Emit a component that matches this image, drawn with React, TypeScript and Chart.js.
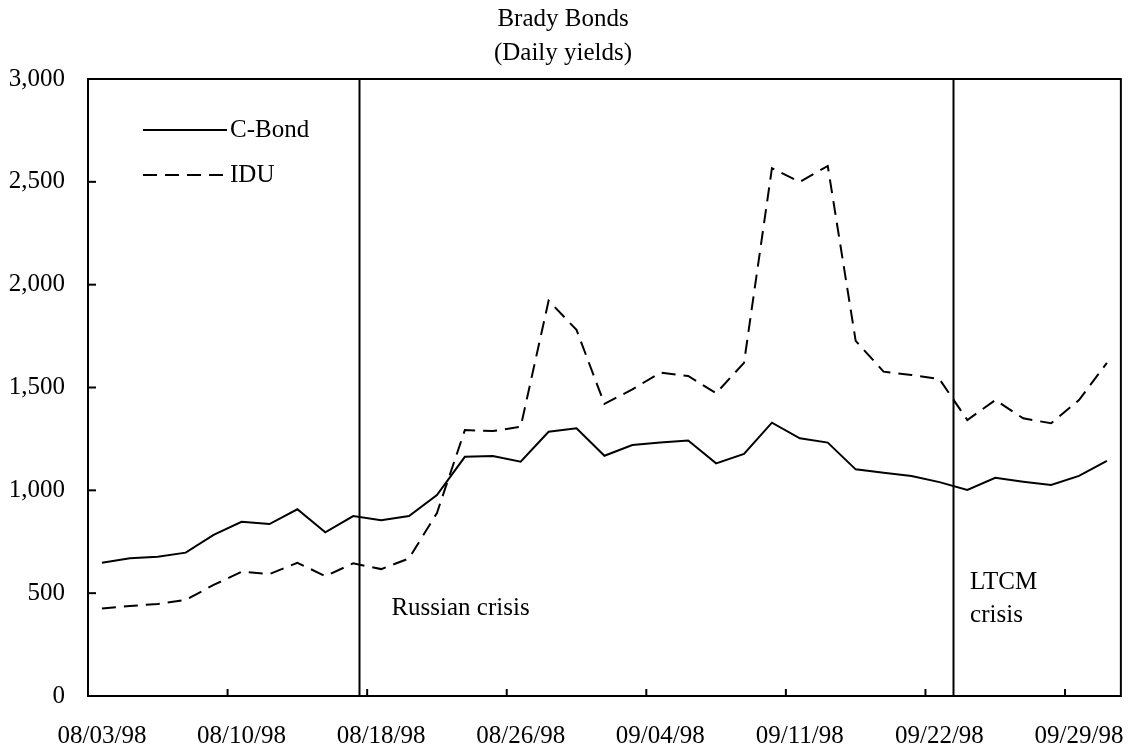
import React, { useEffect, useRef } from 'react';
import { Chart, registerables } from 'chart.js';

Chart.register(...registerables);

// Trading days (categories)
const DATES = [
  '08/03/98', '08/04/98', '08/05/98', '08/06/98', '08/07/98',
  '08/10/98', '08/11/98', '08/12/98', '08/13/98', '08/14/98',
  '08/18/98', '08/19/98', '08/20/98', '08/21/98', '08/24/98',
  '08/26/98', '08/27/98', '08/28/98', '08/31/98', '09/01/98',
  '09/04/98', '09/07/98', '09/08/98', '09/09/98', '09/10/98',
  '09/11/98', '09/14/98', '09/15/98', '09/16/98', '09/17/98',
  '09/22/98', '09/23/98', '09/24/98', '09/25/98', '09/28/98',
  '09/29/98', '09/30/98',
];

const C_BOND = [
  648, 670, 677, 697, 783, 847, 836, 908, 796, 875,
  855, 875, 977, 1163, 1167, 1139, 1285, 1302, 1168, 1220,
  1232, 1242, 1131, 1177, 1329, 1253, 1232, 1102, 1086, 1070,
  1040, 1002, 1061, 1042, 1026, 1070, 1143,
];

const IDU = [
  426, 438, 447, 467, 540, 604, 593, 648, 583, 645,
  617, 669, 890, 1293, 1288, 1309, 1922, 1780, 1420, 1491,
  1572, 1556, 1472, 1620, 2566, 2500, 2577, 1727, 1577, 1561,
  1541, 1342, 1439, 1350, 1326, 1439, 1620,
];

const Y_TICKS = [0, 500, 1000, 1500, 2000, 2500, 3000];
const LABEL_EVERY = 5;
const TITLE_LINES = ['Brady Bonds', '(Daily yields)'];
const SERIES_NAMES = ['C-Bond', 'IDU'];

// Event markers: vertical line at a (fractional) category position
const EVENT_LINE_AT = [9.2, 30.47];
const EVENT_TEXT = [
  { lines: ['Russian crisis'], atIndex: 10.37, atValue: 428 },
  { lines: ['LTCM', 'crisis'], atIndex: 31.1, atValue: 554 },
];

const FONT = '25px "Liberation Serif"';
const DASH = [14, 8];

const decorPlugin = {
  id: 'decor',
  afterDraw(chart: any) {
    const { ctx, chartArea } = chart;
    const xs = chart.scales.x;
    const ys = chart.scales.y;
    ctx.save();
    ctx.fillStyle = '#000';
    ctx.strokeStyle = '#000';
    ctx.font = FONT;

    // Title
    ctx.textAlign = 'center';
    ctx.textBaseline = 'middle';
    ctx.fillText(TITLE_LINES[0], 563, 19);
    ctx.fillText(TITLE_LINES[1], 563, 53);

    // Frame
    ctx.lineWidth = 2;
    ctx.setLineDash([]);
    ctx.strokeRect(chartArea.left, chartArea.top, chartArea.right - chartArea.left, chartArea.bottom - chartArea.top);

    // Inward y ticks
    ctx.lineWidth = 2;
    Y_TICKS.forEach((v) => {
      const y = ys.getPixelForValue(v);
      ctx.beginPath();
      ctx.moveTo(chartArea.left, y);
      ctx.lineTo(chartArea.left + 8, y);
      ctx.stroke();
    });

    // Inward x ticks at category boundaries
    for (let k = -0.5; k <= DATES.length - 0.5; k += LABEL_EVERY) {
      const x = xs.getPixelForValue(k);
      ctx.beginPath();
      ctx.moveTo(x, chartArea.bottom);
      ctx.lineTo(x, chartArea.bottom - 7);
      ctx.stroke();
    }

    // Event lines
    EVENT_LINE_AT.forEach((at) => {
      const x = Math.round(xs.getPixelForValue(at)) + 0.5;
      ctx.beginPath();
      ctx.moveTo(x, chartArea.top);
      ctx.lineTo(x, chartArea.bottom);
      ctx.stroke();
    });

    // Event texts
    ctx.textAlign = 'left';
    ctx.textBaseline = 'middle';
    EVENT_TEXT.forEach((e) => {
      const x = xs.getPixelForValue(e.atIndex);
      const y0 = ys.getPixelForValue(e.atValue);
      e.lines.forEach((t, i) => ctx.fillText(t, x, y0 + i * 33));
    });

    // Legend
    const legendY = [130, 175];
    legendY.forEach((y, i) => {
      ctx.lineWidth = 2;
      ctx.setLineDash(i === 0 ? [] : DASH);
      ctx.beginPath();
      ctx.moveTo(143, y);
      ctx.lineTo(227, y);
      ctx.stroke();
      ctx.setLineDash([]);
      ctx.fillText(SERIES_NAMES[i], 230, y);
    });

    ctx.restore();
  },
};

export default function App() {
  const ref = useRef<HTMLCanvasElement | null>(null);

  useEffect(() => {
    if (!ref.current) return;
    const chart = new Chart(ref.current, {
      type: 'line',
      data: {
        labels: DATES,
        datasets: [
          {
            label: SERIES_NAMES[0],
            data: C_BOND,
            borderColor: '#000',
            borderWidth: 2,
            pointRadius: 0,
            tension: 0,
            fill: false,
          },
          {
            label: SERIES_NAMES[1],
            data: IDU,
            borderColor: '#000',
            borderWidth: 2,
            borderDash: DASH,
            pointRadius: 0,
            tension: 0,
            fill: false,
          },
        ],
      },
      options: {
        animation: false,
        responsive: false,
        layout: { padding: { top: 79, right: 7, left: 0, bottom: 0 } },
        plugins: {
          legend: { display: false },
          title: { display: false },
          tooltip: { enabled: false },
        },
        scales: {
          x: {
            type: 'category',
            offset: true,
            grid: { display: false, drawTicks: false },
            border: { display: false },
            ticks: {
              autoSkip: false,
              maxRotation: 0,
              minRotation: 0,
              padding: 25,
              color: '#000',
              font: { family: 'Liberation Serif', size: 25 },
              callback: (_v: any, i: number) => (i % LABEL_EVERY === 0 ? DATES[i] : ''),
            },
            afterFit: (s: any) => { s.height = 57; },
          },
          y: {
            min: 0,
            max: 3000,
            grid: { display: false, drawTicks: false },
            border: { display: false },
            ticks: {
              stepSize: 500,
              padding: 23,
              color: '#000',
              font: { family: 'Liberation Serif', size: 25 },
              callback: (v: any) => Number(v).toLocaleString('en-US'),
            },
            afterFit: (s: any) => { s.width = 88; },
          },
        },
      },
      plugins: [decorPlugin],
    });
    return () => chart.destroy();
  }, []);

  return (
    <div style={{ position: 'fixed', left: 0, top: 0, width: 1132, height: 753, background: '#fff' }}>
      <canvas ref={ref} width={1132} height={753} style={{ display: 'block' }} />
    </div>
  );
}
